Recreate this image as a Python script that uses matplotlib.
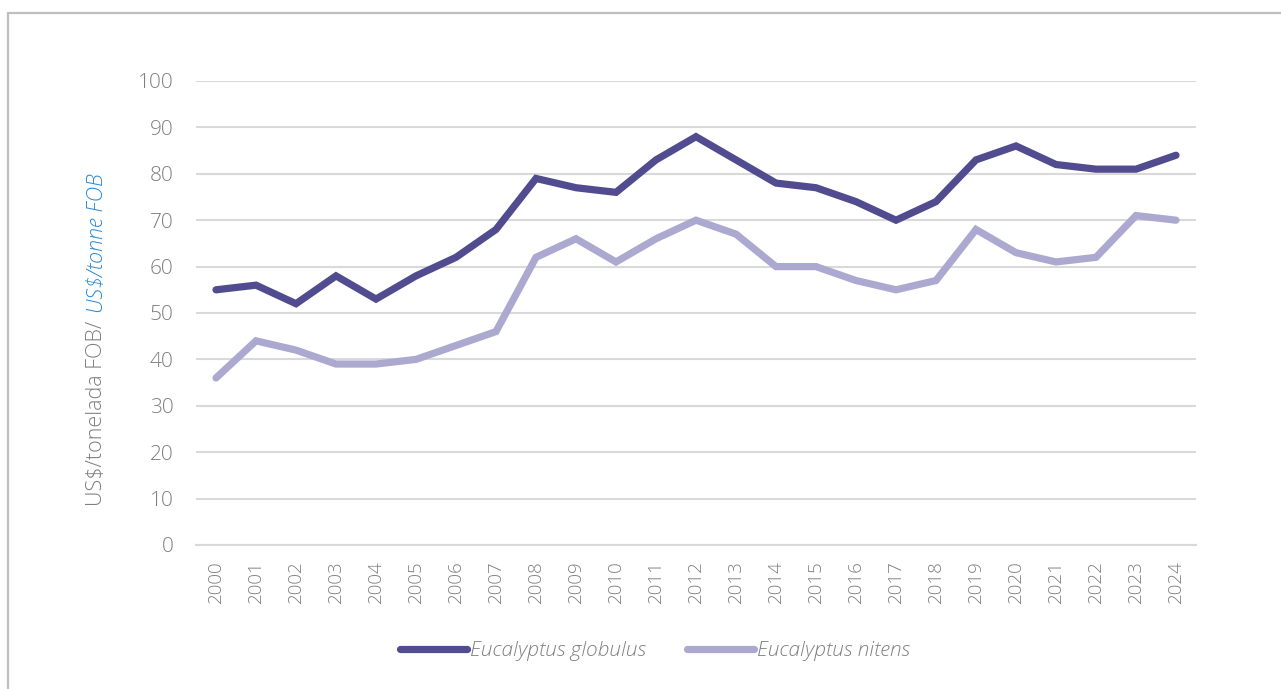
import matplotlib
matplotlib.use("Agg")
import matplotlib.pyplot as plt
from matplotlib.patches import Rectangle

years = [str(y) for y in range(2000, 2025)]
globulus = [55, 56, 52, 58, 53, 58, 62, 68, 79, 77, 76, 83, 88, 83, 78, 77, 74, 70, 74, 83, 86, 82, 81, 81, 84]
nitens = [36, 44, 42, 39, 39, 40, 43, 46, 62, 66, 61, 66, 70, 67, 60, 60, 57, 55, 57, 68, 63, 61, 62, 71, 70]
yticks = [0, 10, 20, 30, 40, 50, 60, 70, 80, 90, 100]

DARK = "#514b8f"
LIGHT = "#aca9d1"
GREY = "#7f7f7f"
BLUE = "#2e8ad3"
FONT = ["Open Sans", "DejaVu Sans"]

plt.rcParams["font.family"] = FONT

W, H = 1281, 689
fig = plt.figure(figsize=(W / 100, H / 100), dpi=100)

# outer frame around the chart
fig.patches.append(Rectangle((8 / W, -0.1), 1.2, 1 - 13 / H + 0.1, transform=fig.transFigure,
                             fill=False, edgecolor="#bfbfbf", linewidth=1.6))

ax = fig.add_axes([196 / W, 1 - 545 / H, 1000 / W, 464 / H])
x = list(range(len(years)))
ax.plot(x, globulus, color=DARK, linewidth=5.2, solid_capstyle="round", solid_joinstyle="miter",
        label="Eucalyptus globulus", zorder=3)
ax.plot(x, nitens, color=LIGHT, linewidth=5.2, solid_capstyle="round", solid_joinstyle="miter",
        label="Eucalyptus nitens", zorder=3)

ax.set_xlim(-0.5, len(years) - 0.5)
ax.set_ylim(0, 100)
ax.set_yticks(yticks)
ax.set_xticks(x)
ax.set_xticklabels(years, rotation=90)
ax.yaxis.grid(True, color="#d9d9d9", linewidth=1.5)
ax.set_axisbelow(True)
for s in ["top", "right", "left"]:
    ax.spines[s].set_visible(False)
ax.spines["bottom"].set_color("#d9d9d9")
ax.spines["bottom"].set_linewidth(1.5)
ax.tick_params(axis="both", length=0, labelcolor=GREY)
ax.tick_params(axis="y", pad=16, labelsize=15)
ax.tick_params(axis="x", pad=11, labelsize=13.5)
for lab in ax.get_xticklabels() + ax.get_yticklabels():
    lab.set_fontweight("light")

# two-part rotated axis title
fig.canvas.draw()
renderer = fig.canvas.get_renderer()
t1 = fig.text(97 / W, 1 - 506 / H, "US$/tonelada FOB/ ", rotation=90, color=GREY,
              fontsize=15.5, fontweight="light", ha="center", va="bottom")
bb = t1.get_window_extent(renderer)
fig.text(97 / W, (bb.y1 + 2) / H, "US$/tonne FOB", rotation=90, color=BLUE, fontsize=15.5,
         fontweight="light", style="italic", ha="center", va="bottom")

leg = ax.legend(loc="center", bbox_to_anchor=(655 / W, 1 - 651 / H), bbox_transform=fig.transFigure,
                ncol=2, frameon=False, handlelength=3.2, handletextpad=0.15, columnspacing=2.0,
                prop={"size": 15, "style": "italic", "weight": "light"})
for t in leg.get_texts():
    t.set_color(GREY)

fig.savefig("out.png", dpi=100)
